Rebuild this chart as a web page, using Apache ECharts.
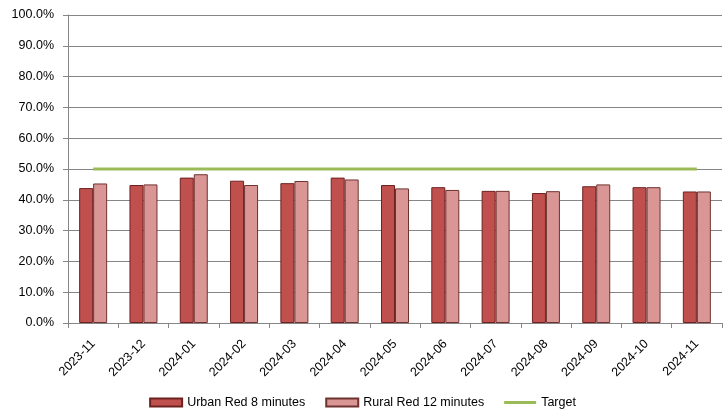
<!DOCTYPE html>
<html><head><meta charset="utf-8">
<script src="https://cdn.jsdelivr.net/npm/echarts@6/dist/echarts.min.js"></script>
<style>html,body{margin:0;padding:0;background:#fff}#c{width:725px;height:414px}</style>
</head><body><div id="c"></div>
<script>
const categories = ['2023-11','2023-12','2024-01','2024-02','2024-03','2024-04','2024-05','2024-06','2024-07','2024-08','2024-09','2024-10','2024-11'];
const urban = [43.8,44.8,47.2,46.2,45.4,47.2,44.8,44.1,42.9,42.2,44.4,44.1,42.7];
const rural = [45.3,45.0,48.3,44.8,46.1,46.6,43.7,43.2,42.9,42.8,45.0,44.1,42.7];
const target = [50,50,50,50,50,50,50,50,50,50,50,50,50];
const yTicks = {min:0,max:100,interval:10};

const font = 'Liberation Sans';
const chart = echarts.init(document.getElementById('c'));
chart.setOption({
  animation:false,
  textStyle:{fontFamily:font},
  grid:{left:68,right:3,top:15,bottom:91,containLabel:false},
  legend:{
    bottom:0,left:'center',itemGap:20,symbolKeepAspect:true,
    textStyle:{fontFamily:font,fontSize:12.5,color:'#000'},
    data:[
      {name:'Urban Red 8 minutes',icon:'rect'},
      {name:'Rural Red 12 minutes',icon:'rect'},
      {name:'Target',icon:'path://M0,0 H32 V3 H0 Z',itemStyle:{color:'#9BBB59',borderWidth:0}}
    ],
    itemWidth:32,itemHeight:8
  },
  xAxis:{
    type:'category',data:categories,boundaryGap:true,
    axisLine:{lineStyle:{color:'#868686'}},
    axisTick:{show:true,alignWithLabel:false,length:5,lineStyle:{color:'#868686'}},
    axisLabel:{rotate:45,color:'#000',fontSize:12.5,fontFamily:font,interval:0,margin:19}
  },
  yAxis:{
    type:'value',min:yTicks.min,max:yTicks.max,interval:yTicks.interval,
    axisLine:{show:true,lineStyle:{color:'#868686'}},
    axisTick:{show:true,length:5,lineStyle:{color:'#868686'}},
    splitLine:{lineStyle:{color:'#868686'}},
    axisLabel:{formatter:v=>v.toFixed(1)+'%',color:'#000',fontSize:12.5,fontFamily:font,margin:14}
  },
  series:[
    {name:'Urban Red 8 minutes',type:'bar',data:urban,barWidth:14,barGap:'0%',
     itemStyle:{color:'#C0504D',borderColor:'#6E2220',borderWidth:1}},
    {name:'Rural Red 12 minutes',type:'bar',data:rural,barWidth:14,barGap:'0%',
     itemStyle:{color:'#D99694',borderColor:'#6E3331',borderWidth:1}},
    {name:'Target',type:'line',data:target,symbol:'none',
     lineStyle:{color:'#9BBB59',width:3},itemStyle:{color:'#9BBB59'}}
  ]
});
</script></body></html>
